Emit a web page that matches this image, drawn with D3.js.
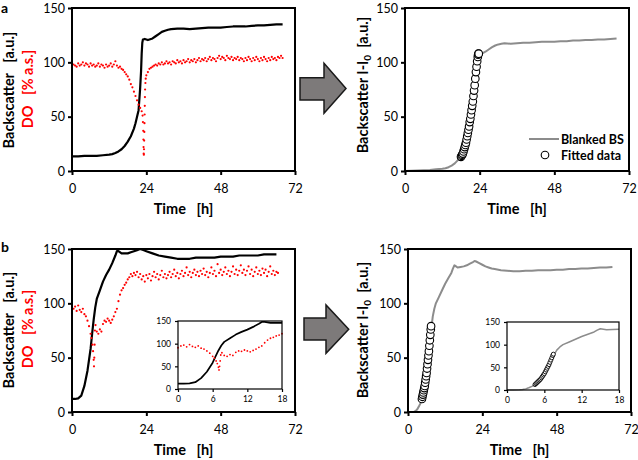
<!DOCTYPE html>
<html>
<head>
<meta charset="utf-8">
<script src="https://cdn.jsdelivr.net/npm/d3@7"></script>
<style>
  body { margin: 0; background: #fff; }
  text { font-family: Lato, "Open Sans", sans-serif; }
</style>
</head>
<body>
<div id="chart"></div>
<script>
// ---------- data: [time h, value] ----------
var timeTicks = [0, 24, 48, 72];
var insetTicks = [0, 6, 12, 18];
var valueTicks = [0, 50, 100, 150];

// experiment a
var bsA = [[0,13.5],[2,13.5],[4,14],[6,14],[8,14],[10,14.5],[12,15],[13,15.5],[14,16.5],[15,18],[16,20],[17,23],[18,27],[19,32],[20,39],[20.5,44],[21,50],[21.5,56],[22,76],[22.3,92],[22.5,108],[22.7,118],[22.9,121],[23.5,121.5],[24,121],[24.5,120.5],[25,121],[26,122],[27,124],[28,126],[29,128],[30,129],[31,130],[32,130.5],[34,131],[36,131],[38,130.5],[40,131],[42,131.5],[44,132],[46,132],[48,132],[50,132.5],[52,133],[54,133],[56,133],[58,133.5],[60,134],[62,134],[64,134.5],[66,135],[68,135]];

var doA = [[0,95],[0.5,98],[1,97],[1.5,96],[2,99],[2.5,97],[3,98],[3.5,100],[4,97],[4.5,99],[5,98],[5.5,96],[6,99],[6.5,97],[7,98],[7.5,96],[8,97],[8.5,99],[9,96],[9.5,98],[10,97],[10.5,95],[11,98],[11.5,96],[12,97],[12.5,99],[13,96],[13.5,98],[14,101],[14.5,97],[15,95],[15.5,96],[16,94],[16.5,93],[17,91],[17.5,89],[18,87],[18.5,84],[19,80],[19.5,77],[20,73],[20.5,69],[21,65],[21.5,61],[22,58],[22.5,55],[22.8,51],[22.9,45],[23,37],[23.05,29],[23.1,22],[23.15,16],[23.2,15],[23.25,20],[23.3,28],[23.35,36],[23.4,44],[23.45,52],[23.5,60],[23.55,68],[23.6,75],[23.7,81],[23.8,85],[24,88],[24.5,91],[25,94],[25.5,95],[26,96],[26.5,97],[27,98],[27.5,97],[28,99],[28.5,98],[29,100],[29.5,98],[30,99],[30.5,101],[31,99],[31.5,100],[32,98],[32.5,101],[33,100],[33.5,99],[34,102],[34.5,100],[35,101],[35.5,99],[36,102],[36.5,100],[37,101],[37.5,103],[38,100],[38.5,102],[39,101],[39.5,103],[40,100],[40.5,102],[41,104],[41.5,101],[42,103],[42.5,102],[43,104],[43.5,101],[44,103],[44.5,105],[45,102],[45.5,104],[46,103],[46.5,101],[47,104],[47.5,106],[48,103],[48.5,105],[49,104],[49.5,102],[50,106],[50.5,104],[51,103],[51.5,105],[52,102],[52.5,104],[53,103],[53.5,105],[54,102],[54.5,104],[55,103],[55.5,101],[56,104],[56.5,102],[57,105],[57.5,103],[58,101],[58.5,104],[59,102],[59.5,105],[60,103],[60.5,101],[61,104],[61.5,102],[62,105],[62.5,103],[63,101],[63.5,104],[64,102],[64.5,105],[65,103],[65.5,104],[66,102],[66.5,105],[67,104],[67.5,106],[68,104]];

var blankA = [[0,0],[2,0.3],[4,0.5],[6,0.8],[8,1],[10,1.5],[12,2],[13,2.5],[14,3.5],[15,5],[16,7],[17,10],[18,13],[19,18],[20,26],[21,40],[22,62],[23,95],[23.6,108],[24,107],[25,108.5],[26,110],[27,112],[28,114],[29,115.5],[30,116.5],[31,117],[32,117.5],[34,117],[36,117.5],[38,118],[40,118],[42,118.5],[44,119],[46,119],[48,119],[50,119.5],[52,119.5],[54,120],[56,120],[58,120.5],[60,120.5],[62,121],[64,121],[66,121.5],[68,122]];

var fitA = [[18,13],[18.2,14],[18.4,15],[18.6,16],[18.8,18],[19,20],[19.2,22],[19.4,24],[19.6,26],[19.8,29],[20,32],[20.2,35],[20.4,38],[20.6,41],[20.8,45],[21,48],[21.2,52],[21.4,56],[21.6,60],[21.8,64],[22,69],[22.2,74],[22.4,79],[22.6,85],[22.8,91],[23,96],[23.2,101],[23.4,105],[23.5,107],[23.6,108],[23.7,108]];

// experiment b
var bsB = [[0,12],[1,12],[2,12.5],[3,15],[4,24],[5,38],[6,58],[6.5,72],[7,85],[7.5,96],[8,104],[9,112],[10,120],[11,126],[12,131],[13,137],[14,144],[14.5,148],[15,148],[16,146],[17,146],[18,146],[19,147],[20,148],[21,149],[22,150],[23,149],[24,148],[26,146],[28,144],[30,143],[32,142],[34,141],[36,141],[38,141],[40,142],[42,142],[44,142],[46,142],[48,143],[50,143],[52,143],[54,144],[56,144],[58,144],[60,144],[62,145],[64,145],[66,145]];

var doB = [[0,91],[0.5,95],[1,97],[1.5,93],[2,98],[2.5,94],[3,92],[3.5,95],[4,90],[4.5,88],[5,84],[5.5,79],[6,72],[6.3,68],[6.6,62],[6.8,56],[7,48],[7.1,42],[7.2,50],[7.3,62],[7.4,75],[7.6,80],[8,74],[8.5,72],[9,76],[9.5,74],[10,81],[10.5,84],[11,83],[11.5,86],[12,84],[12.5,82],[13,85],[13.5,88],[14,92],[14.5,95],[15,102],[15.5,108],[16,112],[16.5,114],[17,117],[17.5,119],[18,122],[18.5,124],[19,127],[19.5,125],[20,128],[20.5,126],[21,129],[21.5,124],[22,127],[22.5,122],[23,125],[23.5,120],[24,126],[24.5,123],[25,127],[25.5,121],[26,125],[26.5,129],[27,124],[27.5,127],[28,122],[28.5,126],[29,130],[29.5,124],[30,127],[30.5,123],[31,126],[31.5,129],[32,124],[32.5,127],[33,131],[33.5,125],[34,128],[34.5,123],[35,127],[35.5,130],[36,125],[36.5,128],[37,133],[37.5,126],[38,129],[38.5,124],[39,128],[39.5,131],[40,126],[40.5,129],[41,125],[41.5,130],[42,127],[42.5,132],[43,126],[43.5,129],[44,124],[44.5,128],[45,133],[45.5,127],[46,130],[46.5,125],[47,136],[47.5,128],[48,131],[48.5,126],[49,129],[49.5,133],[50,127],[50.5,130],[51,125],[51.5,129],[52,134],[52.5,127],[53,131],[53.5,126],[54,130],[54.5,135],[55,128],[55.5,131],[56,126],[56.5,130],[57,134],[57.5,127],[58,131],[58.5,125],[59,129],[59.5,133],[60,127],[60.5,130],[61,126],[61.5,132],[62,128],[62.5,131],[63,125],[63.5,129],[64,134],[64.5,127],[65,130],[65.5,126],[66,129],[66.5,128]];

var blankB = [[0,0],[1,0],[2,0.3],[2.5,1],[3,2.5],[3.5,5],[4,8],[4.5,12],[5,17],[5.5,24],[6,33],[6.5,45],[7,60],[7.5,76],[8,88],[8.5,95],[9,100],[10,106],[11,112],[12,118],[13,123],[14,128],[14.5,132],[15,135],[15.5,134],[16,133],[17,133.5],[18,134],[19,135],[20,136.5],[21,138],[21.5,139],[22,138.5],[23,137],[24,135.5],[25,134],[26,133],[27,132],[28,131.5],[30,130.5],[32,130],[34,129.5],[36,129.5],[38,130],[40,130],[42,130.5],[44,130.5],[46,130.5],[48,131],[50,131],[52,131.5],[54,131.5],[56,132],[58,132],[60,132.5],[62,133],[64,133],[66,133.5]];

var fitB = [[4.5,12],[4.65,14],[4.8,16],[4.95,18],[5.1,20],[5.25,22],[5.4,24],[5.55,27],[5.7,30],[5.85,33],[6,36],[6.15,40],[6.3,44],[6.45,48],[6.6,52],[6.75,56],[6.9,61],[7.05,66],[7.2,71],[7.35,76],[7.45,79]];

// ---------- drawing ----------
var svg = d3.select("#chart").append("svg")
  .attr("width", 638)
  .attr("height", 460);

function drawPanel(p) {
  var g = svg.append("g");
  var x = d3.scaleLinear().domain([0, p.xMax]).range([p.x0, p.x1]);
  var y = d3.scaleLinear().domain([0, 150]).range([p.y1, p.y0]);

  if (p.inset) {
    g.append("rect")
      .attr("x", p.x0).attr("y", p.y0)
      .attr("width", p.x1 - p.x0).attr("height", p.y1 - p.y0)
      .attr("fill", "#fff");
  }

  p.series.forEach(function (s) {
    var pts = s.data.filter(function (d) { return d[0] <= p.xMax; });
    if (s.kind === "line") {
      g.append("path")
        .datum(pts)
        .attr("fill", "none")
        .attr("stroke", s.color)
        .attr("stroke-width", s.width)
        .attr("stroke-linejoin", "round")
        .attr("d", d3.line().x(function (d) { return x(d[0]); }).y(function (d) { return y(d[1]); }));
    } else if (s.kind === "dots") {
      g.append("g").selectAll("circle")
        .data(pts)
        .join("circle")
        .attr("cx", function (d) { return x(d[0]); })
        .attr("cy", function (d) { return y(d[1]); })
        .attr("r", s.r)
        .attr("fill", s.color);
    } else {
      g.append("g").selectAll("circle")
        .data(pts)
        .join("circle")
        .attr("cx", function (d) { return x(d[0]); })
        .attr("cy", function (d) { return y(d[1]); })
        .attr("r", s.r)
        .attr("fill", "#fff")
        .attr("stroke", "#000")
        .attr("stroke-width", s.width);
    }
  });

  //frame
  g.append("rect")
    .attr("x", p.x0).attr("y", p.y0)
    .attr("width", p.x1 - p.x0).attr("height", p.y1 - p.y0)
    .attr("fill", "none")
    .attr("stroke", "#000")
    .attr("stroke-width", p.frame);

  var xAxis = g.append("g")
    .attr("transform", "translate(0," + p.y1 + ")")
    .call(d3.axisBottom(x).tickValues(p.xTicks).tickSize(p.tick).tickPadding(p.xPad).tickSizeOuter(0));
  var yAxis = g.append("g")
    .attr("transform", "translate(" + p.x0 + ",0)")
    .call(d3.axisLeft(y).tickValues(valueTicks).tickSize(p.tick).tickPadding(p.yPad).tickSizeOuter(0));

  [xAxis, yAxis].forEach(function (a) {
    a.select(".domain").remove();
    a.selectAll(".tick line").attr("stroke", "#000").attr("stroke-width", p.frame);
    a.selectAll(".tick text")
      .attr("fill", "#000")
      .style("font-family", "Lato, sans-serif")
      .style("font-size", p.font + "px");
  });

  return g;
}

var mainA = { x0: 72, x1: 295, y0: 8, y1: 171 };
var mainB = { x0: 72, x1: 295, y0: 249, y1: 412 };
var rightA = { x0: 405, x1: 629, y0: 8, y1: 171 };
var rightB = { x0: 408, x1: 631, y0: 249, y1: 412 };

function mainOpts(box, series) {
  return Object.assign({
    xMax: 72, xTicks: timeTicks, tick: 4, xPad: 9, yPad: 3,
    font: 12.5, frame: 2, series: series
  }, box);
}
function insetOpts(box, series) {
  return Object.assign({
    xMax: 18, xTicks: insetTicks, tick: 3, xPad: 4, yPad: 4,
    font: 8.5, frame: 1.2, inset: true, series: series
  }, box);
}

var RED = "#ff0000", GRAY = "#8c8c8c";

drawPanel(mainOpts(mainA, [
  { kind: "line", data: bsA, color: "#000", width: 2.2 },
  { kind: "dots", data: doA, color: RED, r: 1.1 }
]));
drawPanel(mainOpts(rightA, [
  { kind: "line", data: blankA, color: GRAY, width: 2 },
  { kind: "circles", data: fitA, r: 3.8, width: 1.1 }
]));
drawPanel(mainOpts(mainB, [
  { kind: "line", data: bsB, color: "#000", width: 2.2 },
  { kind: "dots", data: doB, color: RED, r: 1.1 }
]));
drawPanel(mainOpts(rightB, [
  { kind: "line", data: blankB, color: GRAY, width: 2 },
  { kind: "circles", data: fitB, r: 3.8, width: 1.1 }
]));

// insets
drawPanel(insetOpts({ x0: 178, x1: 282, y0: 321, y1: 389 }, [
  { kind: "line", data: bsB, color: "#000", width: 1.7 },
  { kind: "dots", data: doB, color: RED, r: 0.9 }
]));
drawPanel(insetOpts({ x0: 507, x1: 619, y0: 322, y1: 390 }, [
  { kind: "line", data: blankB, color: GRAY, width: 1.5 },
  { kind: "circles", data: fitB, r: 2, width: 0.9 }
]));

// axis titles
function title(txt, cx, cy, rotate, color) {
  var t = svg.append("text")
    .attr("x", cx).attr("y", cy)
    .attr("text-anchor", "middle")
    .attr("fill", color || "#000")
    .style("font-weight", "bold")
    .style("font-size", "14.5px")
    .style("white-space", "pre")
    .text(txt);
  if (rotate) t.attr("transform", "rotate(-90," + cx + "," + cy + ")");
  return t;
}

title("Time   [h]", 183.5, 214);
title("Time   [h]", 517, 214);
title("Time   [h]", 183.5, 455);
title("Time   [h]", 519.5, 455);

title("Backscatter   [a.u.]", 14, 90, true);
title("DO   [% a.s.]", 33, 89, true, RED);
title("Backscatter   [a.u.]", 14, 330, true);
title("DO   [% a.s.]", 33, 329, true, RED);

function bsTitle(cx, cy) {
  var t = title("", cx, cy, true);
  t.append("tspan").text("Backscatter I-I");
  t.append("tspan").attr("dy", 3).style("font-size", "10px").text("0");
  t.append("tspan").attr("dy", -3).text("  [a.u.]");
}
bsTitle(368, 85);
bsTitle(368, 330);

// panel letters
svg.append("text").attr("x", 1).attr("y", 13)
  .style("font-weight", "bold").style("font-size", "14px").text("a");
svg.append("text").attr("x", 1).attr("y", 252)
  .style("font-weight", "bold").style("font-size", "14px").text("b");

// legend in a right
svg.append("line")
  .attr("x1", 529).attr("x2", 559).attr("y1", 139).attr("y2", 139)
  .attr("stroke", GRAY).attr("stroke-width", 2);
svg.append("circle")
  .attr("cx", 545).attr("cy", 155).attr("r", 3.8)
  .attr("fill", "#fff").attr("stroke", "#000").attr("stroke-width", 1.1);
svg.append("text").attr("x", 561).attr("y", 143.5)
  .style("font-weight", "bold").style("font-size", "12.5px").text("Blanked BS");
svg.append("text").attr("x", 561).attr("y", 159.5)
  .style("font-weight", "bold").style("font-size", "12.5px").text("Fitted data");

// arrows
var arrowTop = [[300,77.7],[324,77.7],[324,63.3],[346,88.5],[324,113.3],[324,100],[300,100]];
var arrowBottom = [[304,318],[326,318],[326,305],[348.7,329.3],[326,353.3],[326,340],[304,340]];
[arrowTop, arrowBottom].forEach(function (pts) {
  svg.append("polygon")
    .attr("points", pts.map(function (d) { return d.join(","); }).join(" "))
    .attr("fill", "#7d7a7a")
    .attr("stroke", "#1a1a1a")
    .attr("stroke-width", 1.5);
});
</script>
</body>
</html>
